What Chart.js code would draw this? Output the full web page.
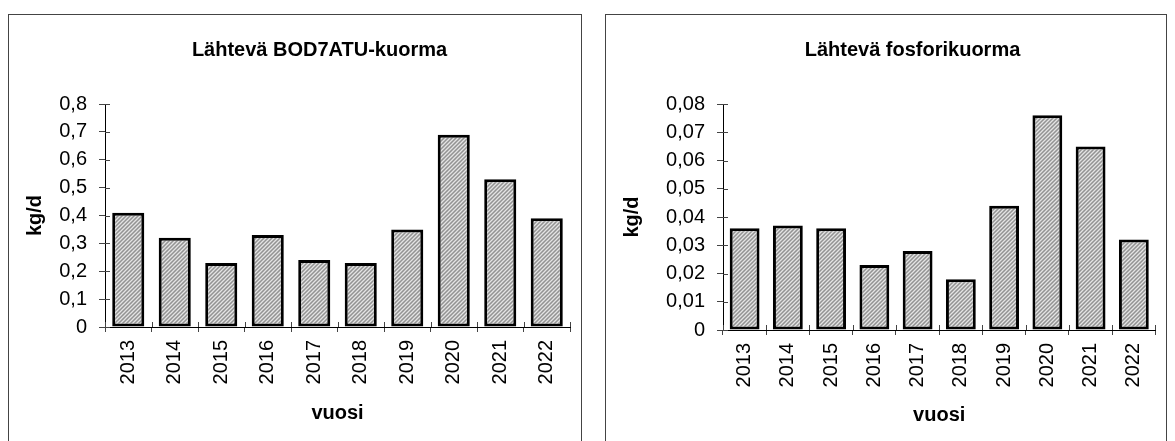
<!DOCTYPE html>
<html>
<head>
<meta charset="utf-8">
<script src="https://cdn.jsdelivr.net/npm/chart.js@4"></script>
<style>
  body { margin: 0; background: #fff; }
  .panel { position: absolute; top: 14px; height: 440px; border: 1px solid #444; box-sizing: border-box; }
  canvas { display: block; }
</style>
</head>
<body>
<div class="panel" style="left:8px; width:574px;"><canvas id="bodChart" width="572" height="426"></canvas></div>
<div class="panel" style="left:605px; width:562px;"><canvas id="pChart" width="560" height="426"></canvas></div>
<script>
// data
const years = ['2013', '2014', '2015', '2016', '2017', '2018', '2019', '2020', '2021', '2022'];
const bodLoad = [0.41, 0.32, 0.23, 0.33, 0.24, 0.23, 0.35, 0.69, 0.53, 0.39];
const phosLoad = [0.036, 0.037, 0.036, 0.023, 0.028, 0.018, 0.044, 0.076, 0.065, 0.032];
const bodTicks = ['0', '0,1', '0,2', '0,3', '0,4', '0,5', '0,6', '0,7', '0,8'];
const phosTicks = ['0', '0,01', '0,02', '0,03', '0,04', '0,05', '0,06', '0,07', '0,08'];

const FONT = '"Liberation Sans", Arial, sans-serif';

// gray fill with light diagonal stripes
function stripes() {
    const c = document.createElement('canvas');
    c.width = 4; c.height = 4;
    const g = c.getContext('2d');
    g.fillStyle = '#939393';
    g.fillRect(0, 0, 4, 4);
    g.strokeStyle = '#e4e4e4';
    g.lineWidth = 1.3;
    g.beginPath();
    g.moveTo(0, 4); g.lineTo(4, 0);
    g.moveTo(-1, 1); g.lineTo(1, -1);
    g.moveTo(3, 5); g.lineTo(5, 3);
    g.stroke();
    return g.createPattern(c, 'repeat');
}

// ticks that also poke into the plot area
const innerTicks = {
    id: 'innerTicks',
    beforeDatasetsDraw(chart) {
        const ctx = chart.ctx;
        const x = chart.scales.x, y = chart.scales.y;
        ctx.save();
        ctx.strokeStyle = '#444';
        ctx.lineWidth = 1;
        ctx.beginPath();
        y.ticks.forEach(t => {
            const py = Math.round(y.getPixelForValue(t.value)) + 0.5;
            ctx.moveTo(x.left, py);
            ctx.lineTo(x.left + 5, py);
        });
        const w = (x.right - x.left) / x.ticks.length;
        for (let i = 0; i <= x.ticks.length; i++) {
            const px = Math.round(x.left + i * w) + 0.5;
            ctx.moveTo(px, y.bottom);
            ctx.lineTo(px, y.bottom - 5);
        }
        ctx.stroke();
        ctx.restore();
    }
};

// the title sits a bit right of the panel centre
const titleShift = {
    id: 'titleShift',
    afterLayout(chart, args, opts) {
        if (chart.titleBlock) {
            chart.titleBlock.left += opts.dx;
            chart.titleBlock.right += opts.dx;
        }
    }
};

function makeChart(id, title, values, max, step, tickLabels, geo) {
    const ctx = document.getElementById(id).getContext('2d');
    return new Chart(ctx, {
        type: 'bar',
        data: {
            labels: years,
            datasets: [{
                data: values,
                backgroundColor: stripes(),
                borderColor: '#000',
                borderWidth: 3,
                borderSkipped: false,
                categoryPercentage: 1,
                barPercentage: 0.69
            }]
        },
        options: {
            responsive: false,
            animation: false,
            layout: { padding: { left: geo.padLeft, right: geo.padRight, top: 0, bottom: 0 } },
            plugins: {
                legend: { display: false },
                tooltip: { enabled: false },
                titleShift: { dx: geo.titleDx },
                title: {
                    display: true,
                    text: title,
                    color: '#000',
                    font: { family: FONT, size: 20, weight: 'bold', lineHeight: 1.2 },
                    padding: { top: 23, bottom: 42 }
                }
            },
            scales: {
                x: {
                    grid: { drawOnChartArea: false, tickLength: 5, color: '#444', offset: true },
                    border: { color: '#000', width: 1 },
                    ticks: {
                        color: '#000', padding: 8, minRotation: 90, maxRotation: 90,
                        font: { family: FONT, size: 20 }
                    },
                    title: {
                        display: true, text: 'vuosi', color: '#000',
                        font: { family: FONT, size: 20, weight: 'bold', lineHeight: 1.2 },
                        padding: { top: 0, bottom: geo.xTitlePad }
                    },
                    afterFit: s => { s.height = geo.xHeight; }
                },
                y: {
                    min: 0, max: max,
                    grid: { drawOnChartArea: false, tickLength: 6, color: '#444' },
                    border: { color: '#000', width: 1 },
                    ticks: {
                        stepSize: step, color: '#000', padding: 12,
                        font: { family: FONT, size: 20 },
                        callback: (v, i) => tickLabels[i]
                    },
                    title: {
                        display: true, text: 'kg/d', color: '#000',
                        font: { family: FONT, size: 20, weight: 'bold', lineHeight: 1.2 },
                        padding: { top: geo.yTitlePad, bottom: 0 }
                    },
                    afterFit: s => { s.width = geo.yWidth; }
                }
            }
        },
        plugins: [innerTicks, titleShift]
    });
}

makeChart('bodChart', 'Lähtevä BOD7ATU-kuorma', bodLoad, 0.8, 0.1, bodTicks,
    { padLeft: 40, padRight: 11, yWidth: 56, xHeight: 114, xTitlePad: 16, yTitlePad: -26, titleDx: 10 });
makeChart('pChart', 'Lähtevä fosforikuorma', phosLoad, 0.08, 0.01, phosTicks,
    { padLeft: 50, padRight: 3, yWidth: 67, xHeight: 111, xTitlePad: 14, yTitlePad: -36, titleDx: 3 });
</script>
</body>
</html>
